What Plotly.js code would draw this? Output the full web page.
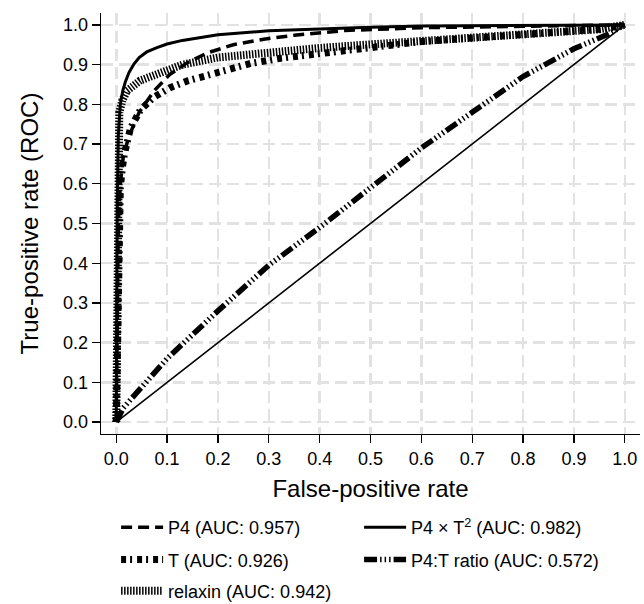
<!DOCTYPE html>
<html>
<head>
<meta charset="utf-8">
<script src="https://cdn.plot.ly/plotly-3.0.1.min.js"></script>
<style>html,body{margin:0;padding:0;background:#fff;}#chart{width:644px;height:604px;}</style>
</head>
<body>
<div id="chart"></div>
<script>
// ROC curve data
const fprP4 = [0, 0.002, 0.004, 0.008, 0.014, 0.025, 0.045, 0.075, 0.105, 0.14, 0.18, 0.23, 0.29, 0.35, 0.45, 0.6, 0.8, 1];
const tprP4 = [0, 0.3, 0.5, 0.6, 0.67, 0.72, 0.78, 0.835, 0.875, 0.905, 0.93, 0.95, 0.964, 0.974, 0.986, 0.993, 0.997, 1];

const fprP4T2 = [0, 0.001, 0.002, 0.004, 0.008, 0.013, 0.018, 0.025, 0.034, 0.045, 0.06, 0.08, 0.1, 0.13, 0.165, 0.2, 0.3, 0.4, 0.5, 0.6, 0.8, 1];
const tprP4T2 = [0, 0.3, 0.55, 0.72, 0.8, 0.835, 0.857, 0.88, 0.9, 0.918, 0.932, 0.943, 0.952, 0.961, 0.968, 0.975, 0.985, 0.99, 0.994, 0.997, 0.999, 1];

const fprRelaxin = [0, 0.001, 0.002, 0.003, 0.006, 0.012, 0.021, 0.047, 0.08, 0.13, 0.2, 0.33, 0.4, 0.5, 0.6, 0.7, 0.8, 0.9, 0.95, 1];
const tprRelaxin = [0, 0.3, 0.6, 0.72, 0.78, 0.81, 0.834, 0.86, 0.877, 0.9, 0.918, 0.936, 0.942, 0.951, 0.96, 0.968, 0.976, 0.984, 0.989, 1];

const fprT = [0, 0.003, 0.006, 0.008, 0.012, 0.016, 0.028, 0.047, 0.073, 0.106, 0.14, 0.2, 0.264, 0.323, 0.4, 0.5, 0.6, 0.7, 0.8, 0.9, 0.95, 1];
const tprT = [0, 0.3, 0.5, 0.59, 0.64, 0.675, 0.74, 0.785, 0.817, 0.842, 0.859, 0.882, 0.903, 0.916, 0.927, 0.945, 0.958, 0.967, 0.976, 0.984, 0.989, 1];

const fprRatio = [0, 0.014, 0.1, 0.2, 0.3, 0.4, 0.5, 0.6, 0.7, 0.8, 0.9, 0.966, 1];
const tprRatio = [0, 0.036, 0.16, 0.28, 0.395, 0.49, 0.59, 0.69, 0.78, 0.87, 0.94, 0.976, 1];

const fprChance = [0, 1];
const tprChance = [0, 1];

const names = {
  p4: 'P4 (AUC: 0.957)',
  p4t2: 'P4 × T<sup>2</sup> (AUC: 0.982)',
  t: 'T (AUC: 0.926)',
  ratio: 'P4:T ratio (AUC: 0.572)',
  relaxin: 'relaxin (AUC: 0.942)'
};
const tickVals = [0, 0.1, 0.2, 0.3, 0.4, 0.5, 0.6, 0.7, 0.8, 0.9, 1.0];
const tickText = ['0.0','0.1','0.2','0.3','0.4','0.5','0.6','0.7','0.8','0.9','1.0'];

const FONT = '"Liberation Sans", Arial, Helvetica, sans-serif';

const traces = [
  {x: fprChance, y: tprChance, mode: 'lines', line: {color: '#000', width: 1.6}, showlegend: false, hoverinfo: 'skip'},
  {x: fprRelaxin, y: tprRelaxin, mode: 'lines', name: names.relaxin, legend: 'legend3',
   line: {color: '#000', width: 8, dash: '1.5px,1.5px'}},
  {x: fprT, y: tprT, mode: 'lines', name: names.t, legend: 'legend2',
   line: {color: '#000', width: 7, dash: '5px,4px,2px,5px'}},
  {x: fprRatio, y: tprRatio, mode: 'lines', name: names.ratio, legend: 'legend2',
   line: {color: '#000', width: 5.5, dash: '13px,3px,1.5px,3px,1.5px,3px,1.5px,3px'}},
  {x: fprP4, y: tprP4, mode: 'lines', name: names.p4, legend: 'legend',
   line: {color: '#000', width: 3.5, dash: '11px,6px'}},
  {x: fprP4T2, y: tprP4T2, mode: 'lines', name: names.p4t2, legend: 'legend',
   line: {color: '#000', width: 3}}
];

function leg(y) {
  return {orientation: 'h', x: 0.028, xanchor: 'left', y: y, yanchor: 'middle',
    entrywidth: 186, entrywidthmode: 'pixels', traceorder: 'normal', itemwidth: 42,
    font: {family: FONT, size: 18, color: '#000'}, bgcolor: 'rgba(0,0,0,0)', borderwidth: 0};
}

const axisCommon = {
  range: [-0.03, 1.03], tickvals: tickVals, ticktext: tickText,
  showgrid: true, gridcolor: '#e2e2e2', gridwidth: 2.5, griddash: '12px,6px',
  zeroline: false, showline: true, linecolor: '#000', linewidth: 1.3, mirror: false,
  ticks: 'outside', ticklen: 8, tickwidth: 1.3, tickcolor: '#000',
  automargin: false,
  tickfont: {family: FONT, size: 18, color: '#000'}
};

const layout = {
  width: 644, height: 604,
  margin: {l: 101, r: 4, t: 13, b: 170, autoexpand: false},
  paper_bgcolor: '#fff', plot_bgcolor: '#fff',
  font: {family: FONT, color: '#000'},
  xaxis: Object.assign({}, axisCommon, {
    title: {text: 'False-positive rate', font: {family: FONT, size: 24, color: '#000'}, standoff: 12}
  }),
  yaxis: Object.assign({}, axisCommon, {
    title: {text: 'True-positive rate (ROC)', font: {family: FONT, size: 24, color: '#000'}, standoff: 17}
  }),
  legend: leg(-0.222),
  legend2: leg(-0.299),
  legend3: leg(-0.373),
  showlegend: true
};

Plotly.newPlot('chart', traces, layout, {displayModeBar: false, staticPlot: true});
</script>
</body>
</html>
